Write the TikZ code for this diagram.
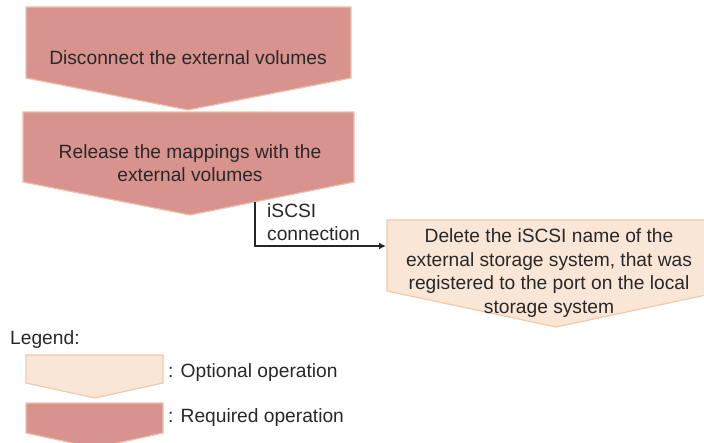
\documentclass[tikz,border=0pt]{standalone}
\usepackage{fontspec}
\setmainfont{Liberation Sans}
\usetikzlibrary{arrows.meta}
\definecolor{reqC}{RGB}{217,147,142}
\definecolor{reqB}{RGB}{238,192,170}
\definecolor{optC}{RGB}{249,230,215}
\definecolor{optB}{RGB}{240,202,170}
\definecolor{txtC}{RGB}{40,40,40}
\tikzset{
  reqop/.style={fill=reqC, draw=reqB, line width=1.2pt},
  optop/.style={fill=optC, draw=optB, line width=1.2pt},
  lbl/.style={align=center, inner sep=0pt, text=txtC, font=\fontsize{19.2}{23.4}\selectfont},
  arr/.style={-{Latex[length=7pt,width=7pt]}, line width=1.3pt, draw=black!85},
}
\begin{document}
\begin{tikzpicture}[x=1pt, y=-1pt]
  \useasboundingbox (0,0) rectangle (704,442);
  \begin{scope}
    \clip (0,0) rectangle (704,442);
    % flow
    \draw[reqop] (26,7) -- (351,7) -- (351,78) -- (188,110) -- (26,78) -- cycle;
    \node[lbl] (disc) at (188,58) {Disconnect the external volumes};
    \draw[reqop] (23,112) -- (354,112) -- (354,182) -- (190,215) -- (23,182) -- cycle;
    \node[lbl] (rel) at (190,163) {Release the mappings with the\\external volumes};
    \draw[optop] (387,220) -- (725,220) -- (725,291) -- (556,327) -- (387,291) -- cycle;
    \node[lbl] (del) at (549,273) {Delete the iSCSI name of the\\external storage system, that was\\registered to the port on the local\\storage system};
    % connector
    \coordinate (cn) at (255,202);
    \coordinate (dl) at (386,246);
    \draw[arr] (cn) |- (dl);
    \node[lbl, align=left, anchor=west] (iscsi) at (267,222) {iSCSI\\connection};
    % legend
    \node[lbl, anchor=west] (legend) at (10,340) {Legend:};
    \draw[optop] (26,355) -- (163,355) -- (163,383) -- (95,398) -- (26,383) -- cycle;
    \node[lbl, anchor=west] (optl) at (168,373) {: Optional operation};
    \draw[reqop] (26,403) -- (163,403) -- (163,433) -- (95,448) -- (26,433) -- cycle;
    \node[lbl, anchor=west] (reql) at (168,418) {: Required operation};
  \end{scope}
\end{tikzpicture}
\end{document}
